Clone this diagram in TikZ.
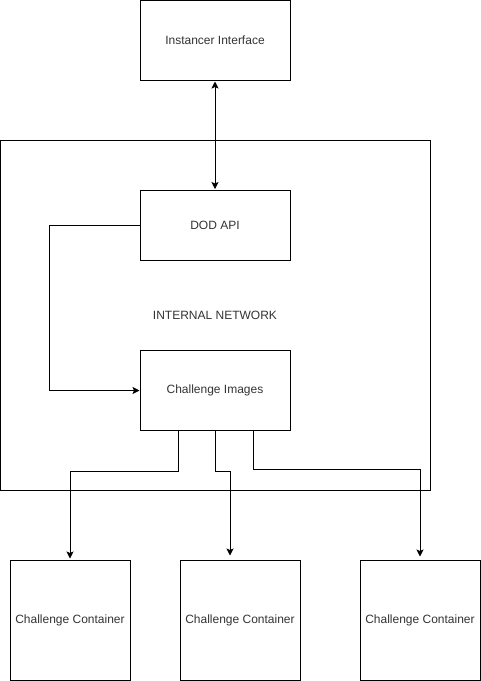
\documentclass[tikz,border=0pt]{standalone}
\usepackage{fontspec}
\setmainfont{Liberation Sans}
\usetikzlibrary{arrows.meta}

\begin{document}
\begin{tikzpicture}[x=1pt, y=-1pt, line width=1pt,
		box/.style={draw, minimum width=150pt, minimum height=80pt, inner sep=0pt, font=\fontsize{12}{14}\selectfont, text=black!80},
		cont/.style={box, minimum width=120pt, minimum height=120pt},
		tip/.tip={Stealth[length=7pt, width=7pt, inset=1.5pt]},
		arr/.style={-tip},
		arrs/.style={tip-tip}]
			\useasboundingbox (0,0) rectangle (481,681);
			% Network
			\def\netleftx{0.5}
			\def\netrightx{430}
			\def\nettopy{140.5}
			\def\netboty{490}
			\def\branchy{40}

			\draw (\netleftx, \nettopy) rectangle (\netrightx, \netboty);
			\node[font=\fontsize{12}{14}\selectfont, text=black!80] (net) at (215, 315) {INTERNAL NETWORK};

			\node[box] (inst) at (215, 40) {Instancer Interface};
			\node[box, minimum height=70pt] (api) at (215, 225.5) {DOD API};
			\node[box] (img) at (215, 390.5) {Challenge Images};
			\node[cont] (ca) at (70, 620) {Challenge Container};
			\node[cont] (cb) at (240, 620) {Challenge Container};
			\node[cont] (cc) at (420, 620) {Challenge Container};

			\draw[arrs, shorten <=1pt, shorten >=1pt] (inst.south) -- (api.north);
			\draw[arr] (api.west) -- ++(-90, 0) |- (img.west);
			\draw[arr, shorten >=1pt] ([xshift=-37pt]img.south) -- ++(0, \branchy) -| (ca.north);
			\draw[arr, shorten >=4pt] (img.south) -- ++(0, \branchy) -| ([xshift=-10pt]cb.north);
			\draw[arr, shorten >=3pt] ([xshift=38pt]img.south) -- ++(0, \branchy - 2) -| (cc.north);
		\end{tikzpicture}
\end{document}
